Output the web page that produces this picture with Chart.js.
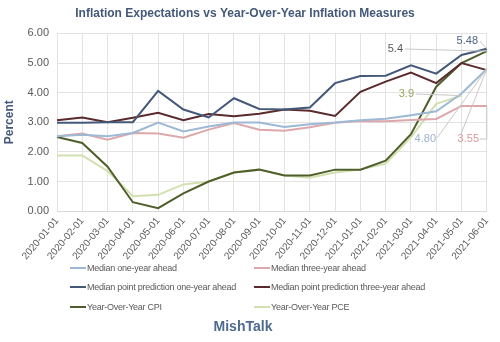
<!DOCTYPE html>
<html>
<head>
<meta charset="utf-8">
<script src="https://cdn.jsdelivr.net/npm/chart.js@4"></script>
<style>
  body { margin: 0; background: #fff; }
  #wrap { position: relative; width: 500px; height: 342px; }
  #chart { position: absolute; left: 0; top: 0; }
  .leg { position: absolute; font: 9px "Liberation Sans", Arial, sans-serif; letter-spacing: -0.25px; color: #595959; white-space: nowrap; }
  .leg i { display: inline-block; width: 16px; height: 2px; vertical-align: middle; margin-right: 1px; position: relative; top: -1px; }
  #brand { position: absolute; left: 0; width: 486px; top: 318px; text-align: center; font: bold 14px "Liberation Sans", Arial, sans-serif; color: #4E6A8E; }
</style>
</head>
<body>
<div id="wrap">
  <canvas id="chart" width="500" height="342"></canvas>
  <div id="legend"></div>
  <div id="brand">MishTalk</div>
</div>
<script>
// months shown on the x axis
const months = ['2020-01-01', '2020-02-01', '2020-03-01', '2020-04-01', '2020-05-01', '2020-06-01',
  '2020-07-01', '2020-08-01', '2020-09-01', '2020-10-01', '2020-11-01', '2020-12-01',
  '2021-01-01', '2021-02-01', '2021-03-01', '2021-04-01', '2021-05-01', '2021-06-01'];

const yTicks = [0, 1, 2, 3, 4, 5, 6];

// series values
const medianOneYear = [2.53, 2.58, 2.53, 2.64, 2.99, 2.69, 2.86, 2.99, 2.99, 2.84, 2.93, 2.99, 3.07, 3.12, 3.24, 3.37, 3.97, 4.80];
const medianThreeYear = [2.53, 2.62, 2.41, 2.64, 2.62, 2.48, 2.75, 2.97, 2.75, 2.71, 2.83, 2.98, 3.04, 3.03, 3.08, 3.11, 3.55, 3.55];
const pointOneYear = [2.98, 2.98, 3.00, 3.00, 4.06, 3.43, 3.16, 3.81, 3.45, 3.43, 3.50, 4.32, 4.56, 4.57, 4.92, 4.64, 5.27, 5.48];
const pointThreeYear = [3.07, 3.16, 3.00, 3.15, 3.32, 3.07, 3.28, 3.20, 3.29, 3.43, 3.39, 3.21, 4.03, 4.37, 4.68, 4.32, 5.00, 4.76];
const cpi = [2.5, 2.3, 1.5, 0.3, 0.1, 0.6, 1.0, 1.3, 1.4, 1.2, 1.2, 1.4, 1.4, 1.7, 2.6, 4.2, 5.0, 5.4];
const pce = [1.88, 1.88, 1.35, 0.50, 0.55, 0.90, 1.00, 1.30, 1.40, 1.20, 1.13, 1.30, 1.40, 1.60, 2.50, 3.62, 3.90, null];

const series = [
  { label: 'Median one-year ahead', data: medianOneYear, color: '#9DB9D5' },
  { label: 'Median three-year ahead', data: medianThreeYear, color: '#DDA8AB' },
  { label: 'Median point prediction one-year ahead', data: pointOneYear, color: '#44597A' },
  { label: 'Median point prediction three-year ahead', data: pointThreeYear, color: '#5A2A2C' },
  { label: 'Year-Over-Year CPI', data: cpi, color: '#4F5F2C' },
  { label: 'Year-Over-Year PCE', data: pce, color: '#D2E0B0' }
];

// end-of-line callouts
const callouts = {
  id: 'callouts',
  afterDatasetsDraw(chart) {
    const { ctx, scales: { x, y } } = chart;
    const last = months.length - 1;
    const xe = x.getPixelForValue(last);
    const xm = x.getPixelForValue(last - 1);
    ctx.save();
    ctx.strokeStyle = '#C8C8C8';
    ctx.lineWidth = 1;
    const line = (pts) => {
      ctx.beginPath();
      ctx.moveTo(pts[0][0], pts[0][1]);
      pts.slice(1).forEach(p => ctx.lineTo(p[0], p[1]));
      ctx.stroke();
    };
    line([[405, 49], [xe, y.getPixelForValue(cpi[last])]]);
    line([[480, 41], [xe, y.getPixelForValue(pointOneYear[last])]]);
    line([[416, 94], [xm, y.getPixelForValue(pce[last - 1])]]);
    line([[437, 138], [xe, y.getPixelForValue(medianOneYear[last])]]);
    line([[461, 134], [xe, y.getPixelForValue(medianOneYear[last])]]);
    line([[480, 139], [xe, 139], [xe, y.getPixelForValue(medianThreeYear[last])]]);

    ctx.font = '11px "Liberation Sans", Arial, sans-serif';
    ctx.textBaseline = 'middle';
    ctx.textAlign = 'right';
    ctx.fillStyle = '#595959';
    ctx.fillText(cpi[last].toString(), 403, 49);
    ctx.fillStyle = '#4F6587';
    ctx.fillText(pointOneYear[last].toFixed(2), 478, 41);
    ctx.fillStyle = '#98A65A';
    ctx.fillText(pce[last - 1].toString(), 414, 94);
    ctx.fillStyle = '#9DB3CC';
    ctx.fillText(medianOneYear[last].toFixed(2), 436, 139);
    ctx.fillStyle = '#D99A9D';
    ctx.fillText(medianThreeYear[last].toFixed(2), 479, 139);
    ctx.restore();
  }
};

new Chart(document.getElementById('chart'), {
  type: 'line',
  data: {
    labels: months,
    datasets: series.map(s => ({
      label: s.label,
      data: s.data,
      borderColor: s.color,
      backgroundColor: s.color,
      borderWidth: 2,
      pointRadius: 0,
      tension: 0,
      fill: false
    }))
  },
  options: {
    responsive: false,
    animation: false,
    layout: { padding: { left: 2, right: 12, top: 0, bottom: 76 } },
    plugins: {
      legend: { display: false },
      tooltip: { enabled: false },
      title: {
        display: true,
        text: 'Inflation Expectations vs Year-Over-Year Inflation Measures',
        color: '#44597A',
        font: { family: 'Liberation Sans', size: 12, weight: 'bold' },
        padding: { top: 6, bottom: 13 }
      }
    },
    scales: {
      x: {
        grid: { color: '#E3E3E3', drawTicks: false },
        border: { color: '#D9D9D9' },
        ticks: {
          color: '#595959',
          font: { family: 'Liberation Sans', size: 10 },
          minRotation: 50,
          maxRotation: 50,
          autoSkip: false,
          padding: 4
        }
      },
      y: {
        min: yTicks[0],
        max: yTicks[yTicks.length - 1],
        afterBuildTicks: (s) => { s.ticks = yTicks.map(v => ({ value: v })); },
        afterFit: (s) => { s.width = 55; },
        grid: { color: '#E3E3E3', drawTicks: false },
        border: { display: false },
        ticks: {
          color: '#595959',
          font: { family: 'Liberation Sans', size: 11 },
          padding: 8,
          callback: (v) => Number(v).toFixed(2)
        },
        title: {
          display: true,
          text: 'Percent',
          color: '#44597A',
          font: { family: 'Liberation Sans', size: 12, weight: 'bold' },
          padding: 0
        }
      }
    }
  },
  plugins: [callouts]
});

// two-column legend under the chart
const legendPos = [[70, 263], [254, 263], [70, 282], [254, 282], [70, 302], [254, 302]];
document.getElementById('legend').innerHTML = series.map((s, i) =>
  `<div class="leg" style="left:${legendPos[i][0]}px;top:${legendPos[i][1]}px"><i style="background:${s.color}"></i>${s.label}</div>`
).join('');
</script>
</body>
</html>
